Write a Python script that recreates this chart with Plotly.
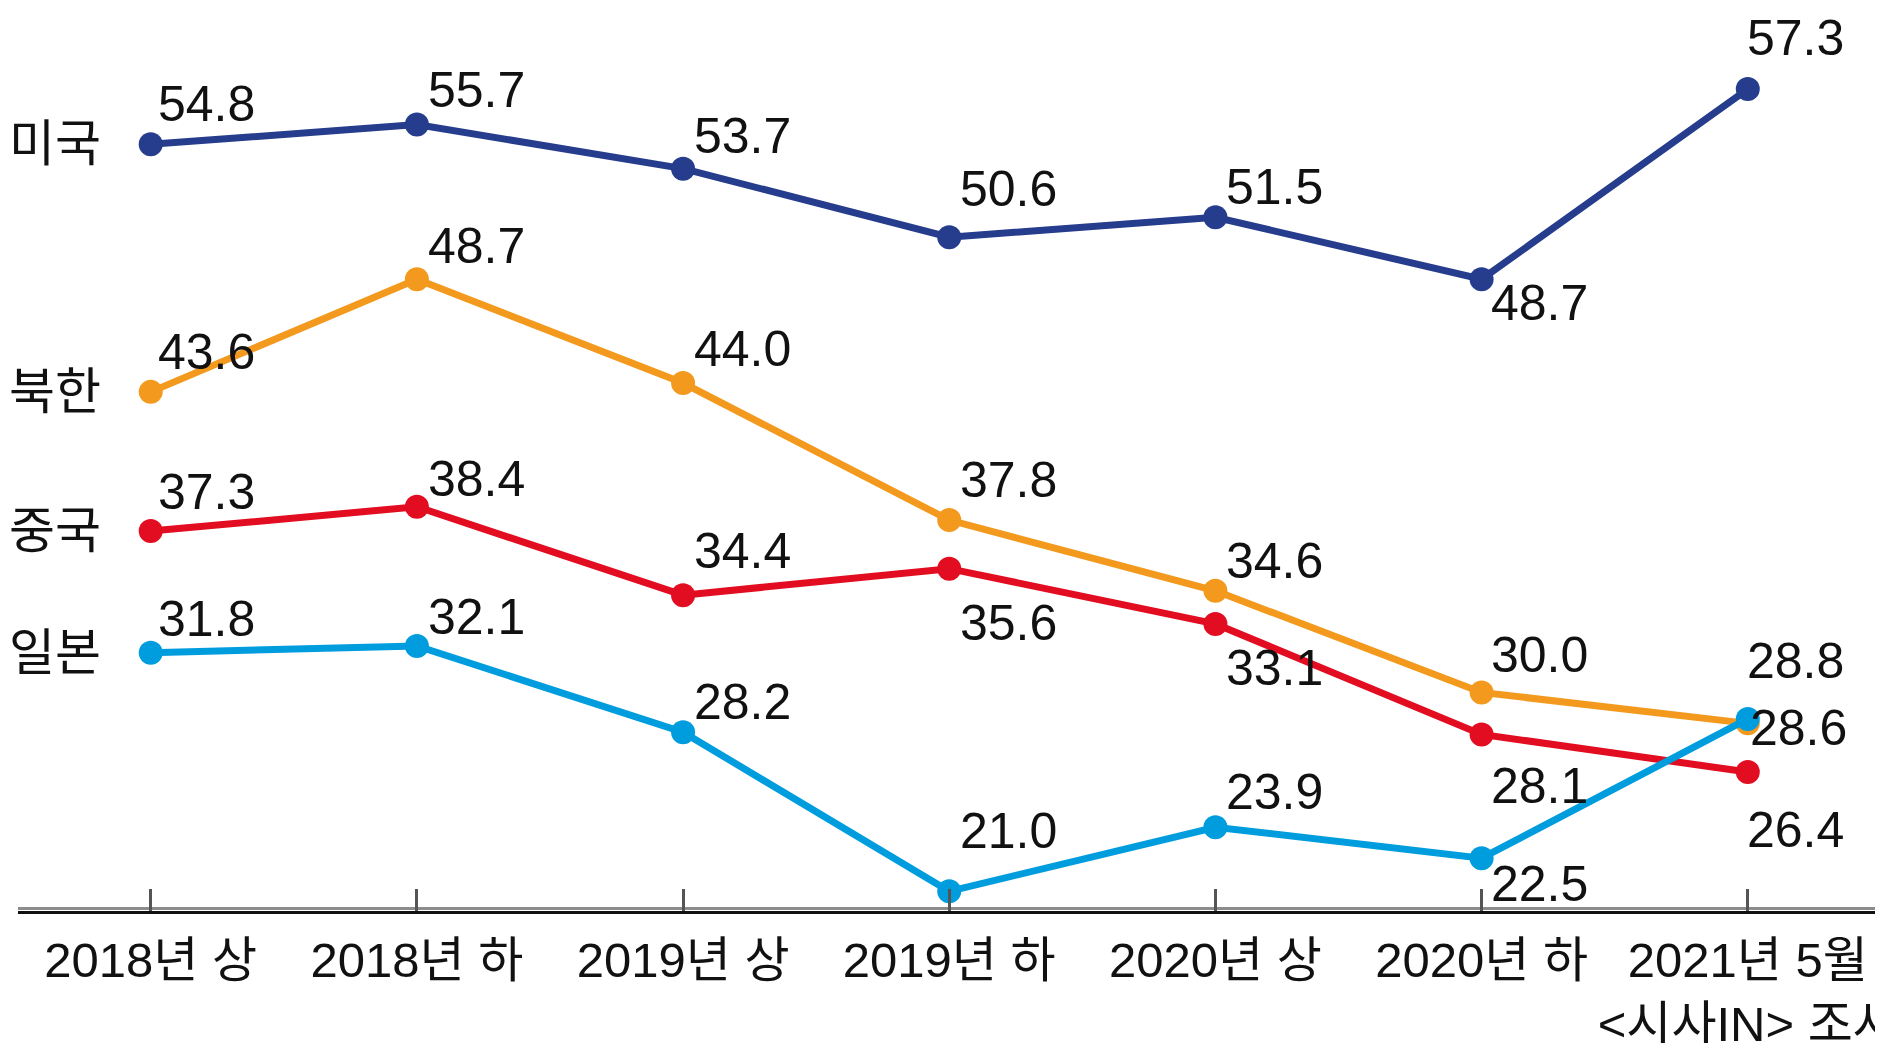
import plotly.graph_objects as go

categories = ["2018년 상", "2018년 하", "2019년 상", "2019년 하", "2020년 상", "2020년 하",
              "2021년 5월<br>&lt;시사IN&gt; 조사"]
series_names = ["미국", "북한", "중국", "일본"]
usa = [54.8, 55.7, 53.7, 50.6, 51.5, 48.7, 57.3]
north_korea = [43.6, 48.7, 44.0, 37.8, 34.6, 30.0, 28.6]
china = [37.3, 38.4, 34.4, 35.6, 33.1, 28.1, 26.4]
japan = [31.8, 32.1, 28.2, 21.0, 23.9, 22.5, 28.8]

colors = ["#263C8C", "#F39A1E", "#E20D20", "#009DDE"]

# label offsets (pixels): x shift, y shift
usa_off = [(5, 40), (9, 34), (9, 33), (9, 48), (9, 30), (7, -24), (-3, 51)]
nk_off = [(5, 40), (9, 33), (9, 34), (9, 40), (9, 30), (7, 37), (0, -5)]
cn_off = [(5, 39), (9, 28), (9, 44), (9, -54), (9, -44), (7, -52), (-3, -58)]
jp_off = [(5, 34), (9, 29), (9, 30), (9, 60), (9, 35), (7, -26), (-3, 58)]

all_series = [usa, north_korea, china, japan]
all_off = [usa_off, nk_off, cn_off, jp_off]

x_idx = list(range(len(categories)))
FONT = "Liberation Sans, Noto Sans CJK KR"

Y_LO, Y_HI = 20.11, 60.97
PLOT_H = 903
px_per_unit = PLOT_H / (Y_HI - Y_LO)

fig = go.Figure()
for name, vals, col in zip(series_names, all_series, colors):
    fig.add_trace(go.Scatter(
        x=x_idx, y=vals, mode="lines+markers", name=name,
        line=dict(color=col, width=7),
        marker=dict(color=col, size=24),
        cliponaxis=False, showlegend=False,
    ))

annotations = []
for vals, offs in zip(all_series, all_off):
    for xi, (v, (dx, dy)) in enumerate(zip(vals, offs)):
        annotations.append(dict(
            x=xi, y=v, xref="x", yref="y", text=f"{v:.1f}", showarrow=False,
            xanchor="left", yanchor="middle", xshift=dx, yshift=dy,
            font=dict(family=FONT, size=50, color="#111111"),
        ))

for name, vals in zip(series_names, all_series):
    annotations.append(dict(
        x=0, y=vals[0], xref="paper", yref="y", text=name, showarrow=False,
        xanchor="left", yanchor="middle", xshift=-10, borderpad=0,
        font=dict(family=FONT, size=50, color="#111111"),
    ))

fig.add_shape(type="line", xref="paper", x0=0, x1=1, yref="y",
              y0=Y_LO + 2.5 / px_per_unit, y1=Y_LO + 2.5 / px_per_unit,
              line=dict(color="#8C8C8C", width=3), layer="below")

fig.update_layout(
    width=1867, height=1035,
    margin=dict(l=10, r=0, t=0, b=1035 - PLOT_H),
    paper_bgcolor="white", plot_bgcolor="white",
    annotations=annotations,
    xaxis=dict(
        range=[-0.4986, 6.478], tickmode="array", tickvals=x_idx, ticktext=categories,
        automargin=False, ticklabeloverflow="allow", ticklabelstandoff=4,
        showgrid=False, zeroline=False, showline=True, linecolor="#111111", linewidth=3,
        ticks="inside", ticklen=22, tickwidth=3, tickcolor="#555555",
        tickfont=dict(family=FONT, size=49, color="#111111"),
    ),
    yaxis=dict(range=[Y_LO, Y_HI], visible=False, showgrid=False, zeroline=False,
               automargin=False),
)

fig.write_html("out.html")
